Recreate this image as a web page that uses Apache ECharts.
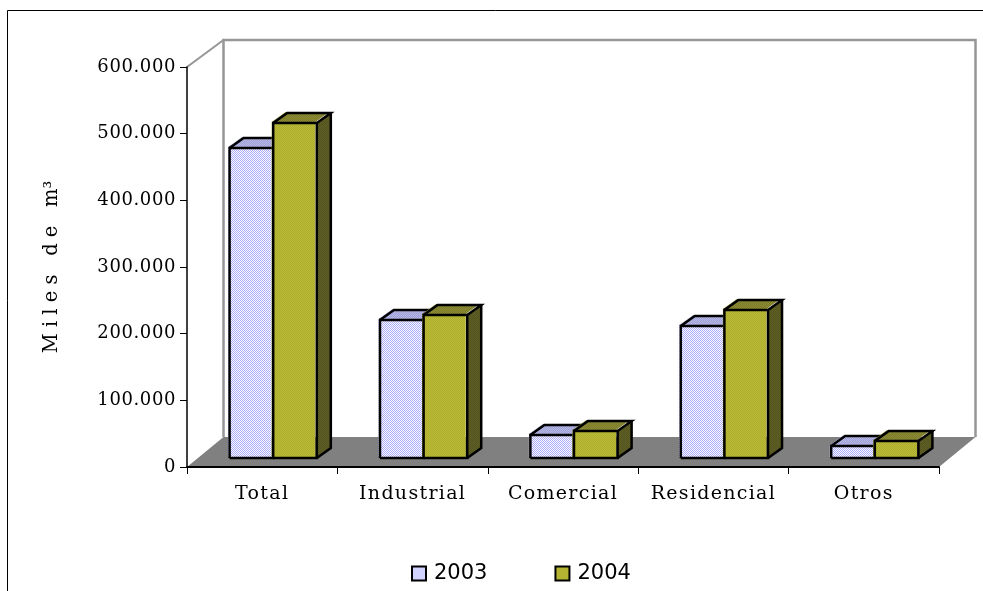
<!DOCTYPE html>
<html><head><meta charset="utf-8">
<style>html,body{margin:0;padding:0;background:#fff}#c{width:983px;height:591px}</style>
<script src="https://cdn.jsdelivr.net/npm/echarts@6/dist/echarts.min.js"></script>
</head><body><div id="c"></div>
<script>
const categories = ['Total','Industrial','Comercial','Residencial','Otros'];
const values2003 = [465000,207000,34500,198000,18000];
const values2004 = [502500,214500,40500,222000,25500];
const yMax = 600000, yStep = 100000;
const FONT = '"DejaVu Serif"';

// the reference's serif is wider than any installed face: track the text out by font size
const tracking = {'19px':'1.3px','18px':'0.6px'};
const baseFill = CanvasRenderingContext2D.prototype.fillText;
CanvasRenderingContext2D.prototype.fillText = function(t,x,y,m){
  const k = Object.keys(tracking).find(s=>this.font.includes(s));
  this.letterSpacing = k ? tracking[k] : '0px';
  return m===undefined ? baseFill.call(this,t,x,y) : baseFill.call(this,t,x,y,m);
};

function checker(a,b){
  const c=document.createElement('canvas');c.width=c.height=2;
  const x=c.getContext('2d');
  x.fillStyle=a;x.fillRect(0,0,2,2);
  x.fillStyle=b;x.fillRect(0,0,1,1);x.fillRect(1,1,1,1);
  return {image:c,repeat:'repeat'};
}
const styles = {
  s2003:{front:checker('#ffffff','#a8a8ff'),top:checker('#a0a0d8','#b8b8e4'),side:checker('#6a6a9a','#7c7cac')},
  s2004:{front:checker('#bcbc38','#acac2c'),top:checker('#8c8c34','#7c7c2c'),side:checker('#5e5e26','#54541e')}
};
const depthX=36.5, depthTopY=27, depthFloorY=30, barDX=11, barDY=9, barD_X=14, barD_Y=10;
const inkW=2.5;

function poly(points,fill){return {type:'polygon',shape:{points},style:{fill,stroke:null}};}
function line(points,lw,color){return {type:'polyline',shape:{points},style:{fill:null,stroke:color||'#000',lineWidth:lw,lineJoin:'miter'}};}

function barRenderer(st,order){
  return function(params,api){
    const i=api.value(0), v=api.value(1);
    const band=api.size([1,0])[0], w=band*0.29;
    const c=api.coord([i,v]), z=api.coord([i,0]);
    const l=c[0]+barDX+(order===0?-w:0), r=l+w, t=c[1]-barDY, b=z[1]-barDY;
    const f=-1.5, g=-1;
    return {type:'group',children:[
      {type:'rect',shape:{x:l+f,y:t+g,width:w,height:b-t},style:{fill:st.front}},
      poly([[l+f,t+g],[l+f+barD_X,t+g-barD_Y],[r+f+barD_X,t+g-barD_Y],[r+f,t+g]],st.top),
      poly([[r,t],[r+barD_X,t-barD_Y],[r+barD_X,b-barD_Y],[r,b]],st.side),
      line([[l,b],[l,t],[r,t],[r,b],[l,b]],inkW),
      line([[l,t],[l+barD_X,t-barD_Y],[r+barD_X,t-barD_Y],[r,t]],inkW),
      line([[r+barD_X,t-barD_Y],[r+barD_X,b-barD_Y],[r,b]],inkW)
    ]};
  };
}
function wallRenderer(params,api){
  const band=api.size([1,0])[0];
  const x0=api.coord([0,0])[0]-band/2, x1=api.coord([categories.length-1,0])[0]+band/2;
  const y0=api.coord([0,0])[1], y1=api.coord([0,yMax])[1];
  const bl=x0+depthX, br=x1+depthX, bt=y1-depthTopY, bb=y0-depthFloorY;
  return {type:'group',children:[
    line([[bl,bb],[bl,bt],[br,bt],[br,bb]],2.5,'#969696'),
    line([[x0,y1],[bl,bt]],2,'#969696'),
    poly([[x0,y0],[bl,bb],[br,bb],[x1,y0]],'#808080')
  ]};
}
const chart=echarts.init(document.getElementById('c'),null,{width:983,height:591});
chart.setOption({
  animation:false,
  backgroundColor:'#fff',
  graphic:[{type:'polyline',silent:true,shape:{points:[[7.5,591],[7.5,10.5],[983,10.5]]},style:{fill:null,stroke:'#000',lineWidth:1}}],
  grid:{left:187,right:44,top:67,bottom:124,containLabel:false},
  legend:{data:['2003','2004'],left:411,top:563,padding:0,itemWidth:14,itemHeight:14,itemGap:67,
    textStyle:{fontFamily:'"DejaVu Sans"',fontSize:21,color:'#000',padding:[0,0,0,3]},
    icon:'rect'},
  xAxis:{type:'category',data:categories,z:5,
    axisLine:{lineStyle:{color:'#000',width:2}},
    axisTick:{show:true,alignWithLabel:false,length:7,lineStyle:{color:'#000',width:1}},
    axisLabel:{fontFamily:FONT,fontSize:19,color:'#000',margin:18}},
  yAxis:{type:'value',min:0,max:yMax,interval:yStep,z:5,
    name:'M i l e s   d e   m³',nameLocation:'middle',nameGap:125,nameRotate:90,
    nameTextStyle:{fontFamily:FONT,fontSize:19.5,color:'#000'},
    axisLine:{show:true,lineStyle:{color:'#000',width:1.5}},
    axisTick:{show:true,length:7,lineStyle:{color:'#000',width:1}},
    splitLine:{show:false},
    axisLabel:{fontFamily:FONT,fontSize:18,color:'#000',margin:11,
      formatter:v=>v===0?'0':String(v).replace(/(\d)(\d{3})$/,'$1.$2')}},
  series:[
    {type:'custom',name:'walls',silent:true,clip:false,z:1,data:[[0,0]],renderItem:wallRenderer,encode:{x:0,y:1}},
    {type:'custom',name:'2003',clip:false,z:2,encode:{x:0,y:1},
      data:values2003.map((v,i)=>[i,v]),renderItem:barRenderer(styles.s2003,0),
      itemStyle:{color:styles.s2003.front,borderColor:'#000',borderWidth:2}},
    {type:'custom',name:'2004',clip:false,z:3,encode:{x:0,y:1},
      data:values2004.map((v,i)=>[i,v]),renderItem:barRenderer(styles.s2004,1),
      itemStyle:{color:styles.s2004.front,borderColor:'#000',borderWidth:2}}
  ]
});
</script></body></html>
